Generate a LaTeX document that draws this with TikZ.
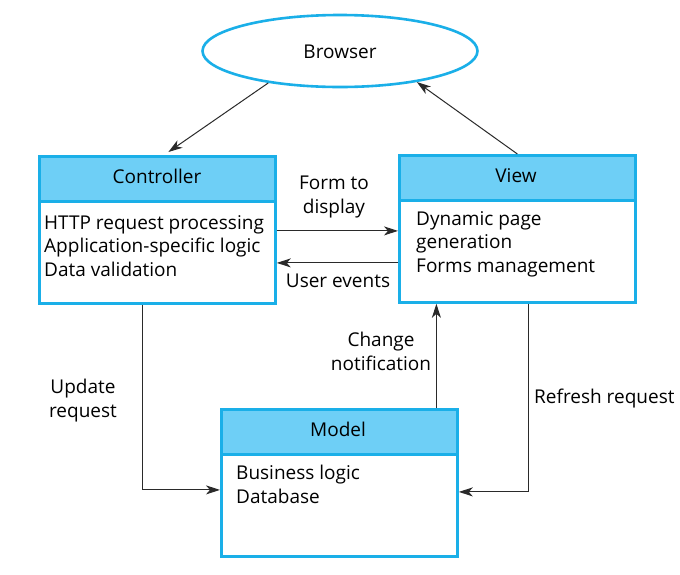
\documentclass[tikz,border=0pt]{standalone}
\usepackage{fontspec}
\setmainfont{Open Sans}
\usetikzlibrary{arrows.meta,shapes.geometric}
\definecolor{boxline}{HTML}{1AAFE8}
\definecolor{boxhead}{HTML}{6ECFF6}
\definecolor{arrowc}{HTML}{2A2A2A}
\begin{document}
\begin{tikzpicture}[x=1pt,y=-1pt,
  every node/.style={font=\fontsize{19}{23.5}\selectfont, text=black},
  compbox/.style={draw=boxline, line width=2.8pt, minimum width=236pt, minimum height=147pt, anchor=north west, inner sep=0pt},
  headbox/.style={draw=boxline, fill=boxhead, line width=2.8pt, minimum width=236pt, minimum height=45pt, anchor=north west, inner sep=0pt},
  headtext/.style={anchor=base, inner sep=0pt},
  bodytext/.style={anchor=base west, align=left, inner sep=0pt},
  lbl/.style={inner sep=0pt, anchor=base},
  arr/.style={draw=arrowc, line width=1pt, -{Stealth[length=14pt,width=9pt,inset=4pt]}}
]
\useasboundingbox (0,0) rectangle (680,574);
\fill[white] (0,0) rectangle (680,574);

% Browser
\node[ellipse, draw=boxline, line width=2.6pt, minimum width=275pt, minimum height=72pt] (browser) at (340,51) {};
\node[headtext] (browsert) at (340,58) {Browser};

% Controller
\node[headbox] (ctrlh) at (38,155) {};
\node[compbox] (ctrl) at (38,155) {};
\node[headtext] (ctrlt) at (157,183) {Controller};
\node[bodytext] (ctrlb) at (44,276) {HTTP request processing\\Application-specific logic\\Data validation};

% View
\node[headbox] (viewh) at (398,154) {};
\node[compbox] (view) at (398,154) {};
\node[headtext] (viewt) at (516,182) {View};
\node[bodytext] (viewb) at (416,272) {Dynamic page\\generation\\Forms management};

% Model
\node[headbox] (modelh) at (220,408) {};
\node[compbox] (model) at (220,408) {};
\node[headtext] (modelt) at (338,436) {Model};
\node[bodytext] (modelb) at (236,503) {Business logic\\Database};

% Connectors
\draw[arr] (browser.204) -- ([xshift=11pt,yshift=3pt]ctrl.north);
\draw[arr] (view.north) -- (browser.338);
\draw[arr] ([yshift=-1pt]ctrl.east) -- ([yshift=-1pt]ctrl.east -| view.west);
\draw[arr] ([yshift=-33pt]ctrl.east -| view.west) -- ([yshift=-33pt]ctrl.east);
\draw[arr] ([xshift=-15pt]ctrl.south) |- ([yshift=-7pt]model.west);
\draw[arr] ([xshift=97pt]model.north) -- ([xshift=97pt]model.north |- view.south);
\draw[arr] ([xshift=11pt]view.south) |- ([yshift=-9pt]model.east);

% Labels
\node[lbl, align=center] (l1) at (334,213) {Form to\\display};
\node[lbl] (l2) at (338,287) {User events};
\node[lbl, align=center] (l3) at (83,417) {Update\\request};
\node[lbl, align=center] (l4) at (381,370) {Change\\notification};
\node[lbl, anchor=base west] (l5) at (534,403) {Refresh request};
\end{tikzpicture}
\end{document}
